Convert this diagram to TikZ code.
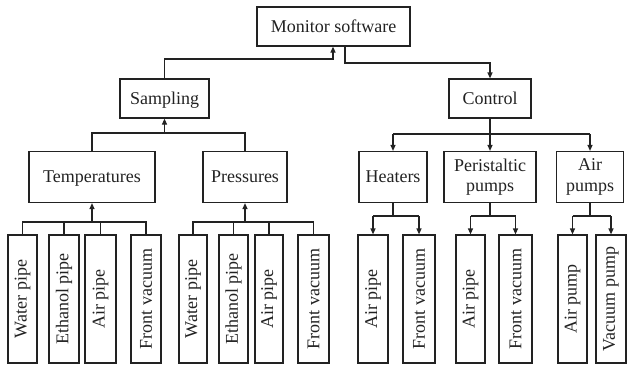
\documentclass[tikz,border=0pt]{standalone}
\usepackage{fontspec}
\setmainfont{Liberation Serif}
\usetikzlibrary{arrows.meta}
\definecolor{ink}{HTML}{222222}
\tikzset{
  box/.style={draw=ink, line width=1.2pt, inner sep=0pt, text=ink, align=center,
    font=\fontsize{18}{20.5}\selectfont},
  one/.style={box, text height=13.5pt, text depth=2pt},
  leaf/.style={box, minimum height=128pt},
  conn/.style={draw=ink, line width=1.2pt},
  arr/.style={conn, -{Triangle[length=6pt,width=5pt]}}
}
\newcommand{\vt}[1]{\rotatebox{90}{#1}}
\begin{document}
\begin{tikzpicture}[x=1pt,y=-1pt]
\useasboundingbox (0,0) rectangle (628,367);
% top level
\node[one, minimum width=153pt, minimum height=39pt] (mon) at (333.5,26.5) {Monitor software};
\node[one, minimum width=89pt, minimum height=39pt] (samp) at (164.5,98.5) {Sampling};
\node[one, minimum width=82pt, minimum height=39pt] (ctrl) at (490,98.5) {Control};
% second level
\node[one, minimum width=126pt, minimum height=51pt] (temp) at (92,177) {Temperatures};
\node[one, minimum width=84pt, minimum height=51pt] (pres) at (245,177) {Pressures};
\node[one, minimum width=68pt, minimum height=51pt] (heat) at (393,177) {Heaters};
\node[box, minimum width=92pt, minimum height=51pt] (peri) at (490,177) {Peristaltic\\pumps};
\node[box, minimum width=67pt, minimum height=51pt] (airp) at (590,177) {Air\\pumps};
% leaves
\node[leaf, minimum width=29pt] (t1) at (22.5,299) {\vt{Water pipe}};
\node[leaf, minimum width=30pt] (t2) at (64,299) {\vt{Ethanol pipe}};
\node[leaf, minimum width=31pt] (t3) at (100.5,299) {\vt{Air pipe}};
\node[leaf, minimum width=30pt] (t4) at (146,299) {\vt{Front vacuum}};
\node[leaf, minimum width=28pt] (p1) at (193,299) {\vt{Water pipe}};
\node[leaf, minimum width=29pt] (p2) at (233.5,299) {\vt{Ethanol pipe}};
\node[leaf, minimum width=28pt] (p3) at (269,299) {\vt{Air pipe}};
\node[leaf, minimum width=31pt] (p4) at (313.5,299) {\vt{Front vacuum}};
\node[leaf, minimum width=30pt] (h1) at (373,299) {\vt{Air pipe}};
\node[leaf, minimum width=32pt] (h2) at (419,299) {\vt{Front vacuum}};
\node[leaf, minimum width=29pt] (q1) at (470.5,299) {\vt{Air pipe}};
\node[leaf, minimum width=33pt] (q2) at (515.5,299) {\vt{Front vacuum}};
\node[leaf, minimum width=29pt] (a1) at (572.5,299) {\vt{Air pump}};
\node[leaf, minimum width=30pt] (a2) at (611,299) {\vt{Vacuum pump}};
% top connectors
\draw[arr] (samp.north) |- (333,59) -- ([xshift=-0.5pt]mon.south);
\draw[arr] ([xshift=11.5pt]mon.south) |- (490,63) -- (ctrl.north);
% sampling
\draw[conn] (temp.north) |- (pres.north |- 0,133) -- (pres.north);
\draw[arr] (samp.south |- 0,133) -- (samp.south);
% control
\draw[conn] (ctrl.south) -- (ctrl.south |- 0,134);
\draw[conn] (heat.north |- 0,134) -- (airp.north |- 0,134);
\draw[arr] (heat.north |- 0,134) -- (heat.north);
\draw[arr] (peri.north |- 0,134) -- (peri.north);
\draw[arr] (airp.north |- 0,134) -- (airp.north);
% temperatures
\draw[conn] (t1.north) |- (t4.north |- 0,222) -- (t4.north);
\draw[conn] (t2.north) -- (t2.north |- 0,222);
\draw[conn] (t3.north) -- (t3.north |- 0,222);
\draw[arr] (temp.south |- 0,222) -- (temp.south);
% pressures
\draw[conn] (p1.north) |- (p4.north |- 0,222) -- (p4.north);
\draw[conn] (p2.north) -- (p2.north |- 0,222);
\draw[conn] (p3.north) -- (p3.north |- 0,222);
\draw[arr] (pres.south |- 0,222) -- (pres.south);
% heaters
\draw[conn] (heat.south) -- (heat.south |- 0,216);
\draw[conn] (h1.north |- 0,216) -- (h2.north |- 0,216);
\draw[arr] (h1.north |- 0,216) -- (h1.north);
\draw[arr] (h2.north |- 0,216) -- (h2.north);
% peristaltic
\draw[conn] (peri.south) -- (peri.south |- 0,216);
\draw[conn] (q1.north |- 0,216) -- (q2.north |- 0,216);
\draw[arr] (q1.north |- 0,216) -- (q1.north);
\draw[arr] (q2.north |- 0,216) -- (q2.north);
% air pumps
\draw[conn] (airp.south) -- (airp.south |- 0,216);
\draw[conn] (a1.north |- 0,216) -- (a2.north |- 0,216);
\draw[arr] (a1.north |- 0,216) -- (a1.north);
\draw[arr] (a2.north |- 0,216) -- (a2.north);
\end{tikzpicture}
\end{document}
